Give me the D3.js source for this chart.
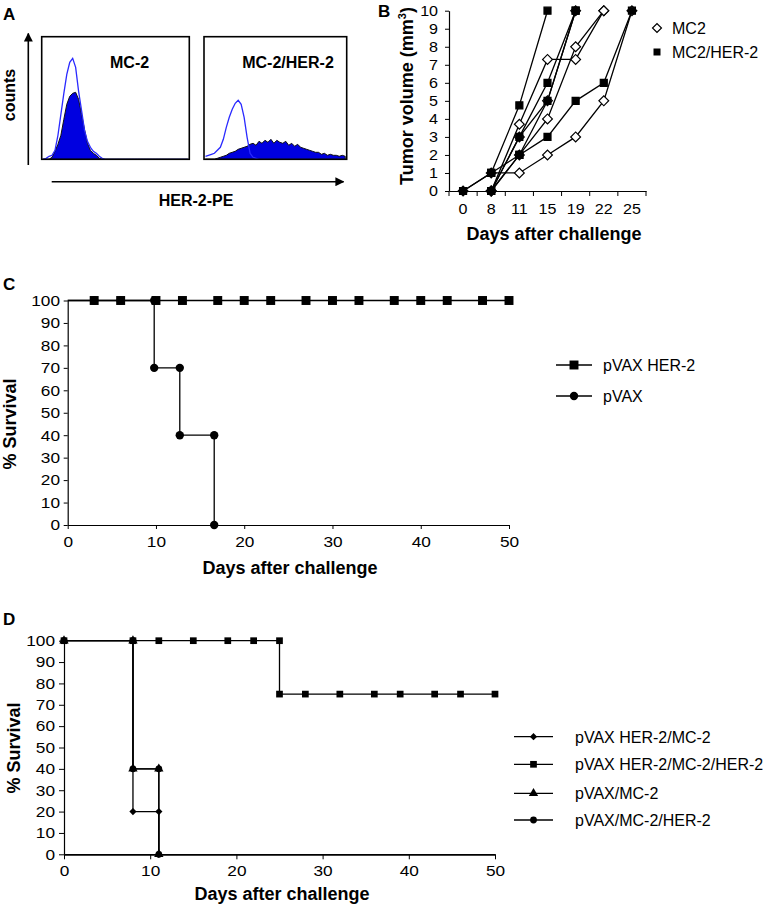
<!DOCTYPE html>
<html>
<head>
<meta charset="utf-8">
<script src="https://cdn.jsdelivr.net/npm/d3@7"></script>
<style>
  body { margin: 0; background: #fff; }
  svg { display: block; font-family: "Liberation Sans", Arial, sans-serif; }
</style>
</head>
<body>
<div id="fig"></div>
<script>
// ---------- Panel A : flow histograms (counts per bin)
const mc2Control = [0,1,3,4,9,24,45,66,85,97,101,92,68,49,29,18,12,8,6,3,1,0,0,0,0,0,0,0,0,0,0,0,0,0,0,0,0,0,0,0,0,0,0,0,0,0,0,0,0,0];
const mc2Stained = [0,0,0,2,8,15,24,40,55,63,66,67,60,45,30,16,9,6,4,1,0,0,0,0,0,0,0,0,0,0,0,0,0,0,0,0,0,0,0,0,0,0,0,0,0,0,0,0,0,0];
const her2Control = [3,4,5,6,9,12,20,32,42,50,56,59,55,42,22,6,2,1,0,0,0,0,0,0,0,0,0,0,0,0,0,0,0,0,0,0,0,0,0,0,0,0,0,0,0,0,0,0];
const her2Stained = [0,0,0,0,1,2,3,4,6,7,8,10,11,12,13,15,16,14,18,16,19,17,20,16,19,17,16,18,14,16,13,15,12,11,10,9,8,7,7,5,6,4,5,4,4,3,4,3];

// ---------- Panel B : tumor volume
const tumorDays = ["0", "8", "11", "15", "19", "22", "25"];
const volumeTicks = [0, 1, 2, 3, 4, 5, 6, 7, 8, 9, 10];
const mc2Volumes = [
  [0, 1, 1, 2, 3, 5, 10],
  [null, 0, 3.7, 7.3, 7.3, 10, null],
  [null, 0, 2, 4, 8, 10, null],
  [null, 0, 3, 5, 10, null, null]
];
const her2Volumes = [
  [0, 1, 4.75, 10, null, null, null],
  [null, 0, 3, 6, 10, null, null],
  [null, 1, 2, 3, 5, 6, 10],
  [null, 0, 2, 5, 10, null, null]
];

// ---------- Panel C : survival
const survTicks = [0, 10, 20, 30, 40, 50, 60, 70, 80, 90, 100];
const dayTicks = [0, 10, 20, 30, 40, 50];
const cHer2Days = [0, 3, 6, 10, 13, 17, 20, 23, 27, 30, 33, 37, 40, 43, 47, 50];
const cHer2Surv = [100, 100, 100, 100, 100, 100, 100, 100, 100, 100, 100, 100, 100, 100, 100, 100];
const cPvaxDays = [0, 3, 6, 9.8, 9.8, 12.7, 12.7, 16.6, 16.6];
const cPvaxSurv = [100, 100, 100, 100, 70, 70, 40, 40, 0];

// ---------- Panel D : survival after rechallenge
const dHer2Days = [0, 8, 11, 15, 19, 22, 25, 25, 28, 32, 36, 39, 43, 46, 50];
const dHer2Surv = [100, 100, 100, 100, 100, 100, 100, 75, 75, 75, 75, 75, 75, 75, 75];
const dHer2Mc2Days = [0, 8, 8, 11, 11];
const dHer2Mc2Surv = [100, 100, 20, 20, 0];
const dMc2Days = [0, 8, 8, 11, 11];
const dMc2Surv = [100, 100, 40, 40, 0];
const dMc2Her2Days = [0, 8, 8, 11, 11];
const dMc2Her2Surv = [100, 100, 40, 40, 0];

const W = 769, H = 906;
const svg = d3.select("#fig").append("svg")
  .attr("width", W).attr("height", H)
  .attr("viewBox", `0 0 ${W} ${H}`);

function label(x, y, str, opt = {}) {
  const t = svg.append("text")
    .attr("x", x).attr("y", y)
    .attr("font-size", opt.size || 16)
    .attr("font-weight", opt.bold ? "bold" : null)
    .attr("text-anchor", opt.anchor || "start")
    .attr("fill", "#000")
    .text(str);
  if (opt.rotate) t.attr("transform", `rotate(-90, ${x}, ${y})`);
  return t;
}

function styleAxis(g, size, sx) {
  g.select(".domain").attr("stroke", "#000").attr("stroke-width", 1.2);
  g.selectAll(".tick line").attr("stroke", "#000");
  g.selectAll(".tick text")
    .attr("font-size", size)
    .attr("fill", "#000")
    .attr("transform", `scale(${sx},1)`);
}

const sym = (type, size) => d3.symbol().type(type).size(size)();

// ================= Panel A
label(3, 20, "A", { size: 17, bold: true });

const boxes = [
  { x0: 41.7, x1: 189.3, control: mc2Control, stained: mc2Stained, name: "MC-2", lx: 129.6 },
  { x0: 204, x1: 346.7, control: her2Control, stained: her2Stained, name: "MC-2/HER-2", lx: 288 }
];
const hy = d3.scaleLinear().domain([0, 120]).range([159.3, 39.3]);
boxes.forEach(b => {
  const hx = d3.scaleLinear().domain([0, b.control.length]).range([b.x0, b.x1]);
  const area = d3.area()
    .x((d, i) => hx(i + 0.5)).y0(hy(0)).y1(d => hy(d));
  const line = d3.line()
    .x((d, i) => hx(i + 0.5)).y(d => hy(d));
  svg.append("path").datum(b.stained)
    .attr("d", area).attr("fill", "#0000e0")
    .attr("stroke", "#111").attr("stroke-width", 1);
  svg.append("path").datum(b.control)
    .attr("d", line).attr("fill", "none")
    .attr("stroke", "#2a2aff").attr("stroke-width", 1.3);
  svg.append("rect")
    .attr("x", b.x0).attr("y", 36.7)
    .attr("width", b.x1 - b.x0).attr("height", 159.3 - 36.7)
    .attr("fill", "none").attr("stroke", "#000").attr("stroke-width", 1.6);
  label(b.lx, 67.7, b.name, { size: 16, bold: true, anchor: "middle" });
});

svg.append("defs").append("marker")
  .attr("id", "arr").attr("viewBox", "0 0 10 10")
  .attr("refX", 9).attr("refY", 5)
  .attr("markerWidth", 9).attr("markerHeight", 9)
  .attr("markerUnits", "userSpaceOnUse")
  .attr("orient", "auto")
  .append("path").attr("d", "M0,0L10,5L0,10Z").attr("fill", "#000");

svg.append("line").attr("x1", 28.3).attr("y1", 165).attr("x2", 28.3).attr("y2", 33.5)
  .attr("stroke", "#000").attr("stroke-width", 1.6).attr("marker-end", "url(#arr)");
svg.append("line").attr("x1", 51.7).attr("y1", 181.7).attr("x2", 343.5).attr("y2", 181.7)
  .attr("stroke", "#000").attr("stroke-width", 1.6).attr("marker-end", "url(#arr)");
label(15, 95, "counts", { size: 16, bold: true, anchor: "middle", rotate: true });
label(196, 206, "HER-2-PE", { size: 16, bold: true, anchor: "middle" });

// ================= Panel B
label(378, 17, "B", { size: 17, bold: true });

const bx = d3.scaleBand().domain(tumorDays).range([449, 646]);
const by = d3.scaleLinear().domain([0, 10]).range([191, 10.7]);

const bLeft = svg.append("g").attr("transform", "translate(449,0)")
  .call(d3.axisLeft(by).tickValues(volumeTicks).tickSize(4).tickPadding(5.5).tickSizeOuter(0));
styleAxis(bLeft, 14, 1.15);
const bBottom = svg.append("g").attr("transform", "translate(0,191)")
  .call(d3.axisBottom(bx).tickSize(0).tickPadding(13).tickSizeOuter(0));
styleAxis(bBottom, 14, 1.15);
svg.append("g").selectAll("line")
  .data(tumorDays.map(d => bx(d)).concat([bx.range()[1]]))
  .join("line")
  .attr("x1", d => d).attr("x2", d => d)
  .attr("y1", 191).attr("y2", 196)
  .attr("stroke", "#000");

const bLine = d3.line()
  .defined(v => v != null)
  .x((v, i) => bx(tumorDays[i]) + bx.bandwidth() / 2)
  .y(v => by(v));

const bSeries = [
  ...mc2Volumes.map(v => ({ vals: v, kind: "di" })),
  ...her2Volumes.map(v => ({ vals: v, kind: "sq" }))
];
svg.append("g").selectAll("path")
  .data(bSeries).join("path")
  .attr("d", d => bLine(d.vals))
  .attr("fill", "none").attr("stroke", "#000").attr("stroke-width", 1.3);

bSeries.forEach(s => {
  svg.append("g").selectAll("path")
    .data(s.vals.map((v, i) => ({ v, i })).filter(p => p.v != null))
    .join("path")
    .attr("transform", p => `translate(${bx(tumorDays[p.i]) + bx.bandwidth() / 2},${by(p.v)})` + (s.kind === "di" ? " rotate(45)" : ""))
    .attr("d", s.kind === "di" ? sym(d3.symbolSquare, 48) : sym(d3.symbolSquare, 49))
    .attr("fill", s.kind === "di" ? "#fff" : "#000")
    .attr("stroke", "#000").attr("stroke-width", 1.2);
});

label(413, 96, "", { size: 18, bold: true, anchor: "middle", rotate: true })
  .call(t => {
    t.append("tspan").text("Tumor volume (mm");
    t.append("tspan").text("3").attr("font-size", 11).attr("dy", -7);
    t.append("tspan").text(")").attr("dy", 7);
  });
label(554, 240, "Days after challenge", { size: 18, bold: true, anchor: "middle" });

// legend B
svg.append("path").attr("transform", "translate(657,28) rotate(45)")
  .attr("d", sym(d3.symbolSquare, 40)).attr("fill", "#fff").attr("stroke", "#000").attr("stroke-width", 1.2);
label(672, 34, "MC2", { size: 16 });
svg.append("path").attr("transform", "translate(657,52)")
  .attr("d", sym(d3.symbolSquare, 49)).attr("fill", "#000");
label(672, 58, "MC2/HER-2", { size: 16 });

// ================= survival panel helper
function survivalPanel(cfg) {
  const x = d3.scaleLinear().domain([0, 50]).range([cfg.left, cfg.right]);
  const y = d3.scaleLinear().domain([0, 100]).range([cfg.bottom, cfg.top]);
  const gl = svg.append("g").attr("transform", `translate(${cfg.left},0)`)
    .call(d3.axisLeft(y).tickValues(survTicks).tickSize(cfg.tick).tickPadding(cfg.padL).tickSizeOuter(0));
  styleAxis(gl, 15, 1.15);
  const gb = svg.append("g").attr("transform", `translate(0,${cfg.bottom})`)
    .call(d3.axisBottom(x).tickValues(dayTicks).tickSize(cfg.tick).tickPadding(cfg.padB).tickSizeOuter(0));
  styleAxis(gb, 15, 1.15);
  gb.select(".domain").attr("stroke-width", cfg.xw);

  const line = d3.line().x(d => x(d[0])).y(d => y(d[1]));
  cfg.series.forEach(s => {
    const pts = s.days.map((d, i) => [d, s.surv[i]]);
    svg.append("path").datum(pts)
      .attr("d", line).attr("fill", "none")
      .attr("stroke", "#000").attr("stroke-width", 1.3);
    svg.append("g").selectAll("path")
      .data(pts.slice(s.skip || 0)).join("path")
      .attr("transform", d => `translate(${x(d[0])},${y(d[1])})` + (s.rot ? ` rotate(${s.rot})` : ""))
      .attr("d", sym(s.type, s.size))
      .attr("fill", "#000");
  });

  cfg.legend.forEach((s, i) => {
    const ly = cfg.legendY[i];
    svg.append("line").attr("x1", cfg.legendX[0]).attr("x2", cfg.legendX[1])
      .attr("y1", ly).attr("y2", ly).attr("stroke", "#000").attr("stroke-width", 1.3);
    svg.append("path")
      .attr("transform", `translate(${(cfg.legendX[0] + cfg.legendX[1]) / 2},${ly})` + (s.rot ? ` rotate(${s.rot})` : ""))
      .attr("d", sym(s.type, s.size)).attr("fill", "#000");
    label(cfg.legendText, ly + 6, s.name, { size: 16 });
  });
}

// ================= Panel C
label(3, 290, "C", { size: 17, bold: true });
const cSeries = [
  { name: "pVAX HER-2", days: cHer2Days, surv: cHer2Surv, type: d3.symbolSquare, size: 80, skip: 1 },
  { name: "pVAX", days: cPvaxDays, surv: cPvaxSurv, type: d3.symbolCircle, size: 55, skip: 1 }
];
survivalPanel({
  left: 67.7, right: 509, top: 300.5, bottom: 525,
  tick: 4, padL: 2.7, padB: 7.7, xw: 1.2,
  series: [cSeries[1], cSeries[0]],
  legend: cSeries, legendX: [556, 592], legendY: [365, 396], legendText: 603
});
label(15.5, 424, "% Survival", { size: 18, bold: true, anchor: "middle", rotate: true });
label(290, 574, "Days after challenge", { size: 18, bold: true, anchor: "middle" });

// ================= Panel D
label(3, 625, "D", { size: 17, bold: true });
const dSeries = [
  { name: "pVAX HER-2/MC-2", days: dHer2Mc2Days, surv: dHer2Mc2Surv, type: d3.symbolSquare, size: 26, rot: 45 },
  { name: "pVAX HER-2/MC-2/HER-2", days: dHer2Days, surv: dHer2Surv, type: d3.symbolSquare, size: 45 },
  { name: "pVAX/MC-2", days: dMc2Days, surv: dMc2Surv, type: d3.symbolTriangle, size: 38 },
  { name: "pVAX/MC-2/HER-2", days: dMc2Her2Days, surv: dMc2Her2Surv, type: d3.symbolCircle, size: 36 }
];
survivalPanel({
  left: 64, right: 495, top: 640.7, bottom: 854.3,
  tick: 5, padL: 2.8, padB: 5.7, xw: 1.8,
  series: [dSeries[1], dSeries[0], dSeries[2], dSeries[3]],
  legend: dSeries, legendX: [514, 553], legendY: [736.7, 764.3, 793.3, 820], legendText: 575
});
label(20, 748, "% Survival", { size: 18, bold: true, anchor: "middle", rotate: true });
label(282, 900, "Days after challenge", { size: 18, bold: true, anchor: "middle" });
</script>
</body>
</html>
